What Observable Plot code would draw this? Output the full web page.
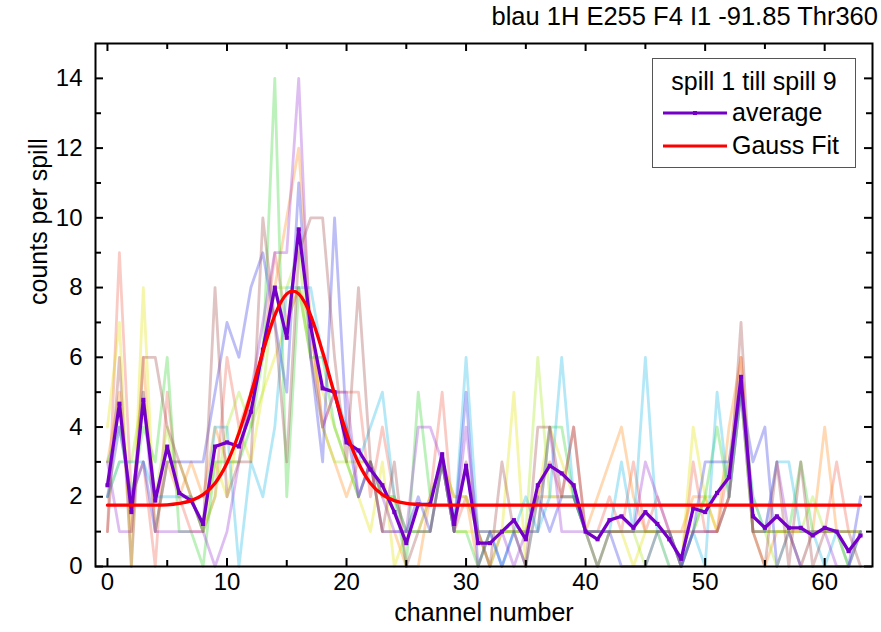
<!DOCTYPE html>
<html><head><meta charset="utf-8">
<script src="https://cdn.jsdelivr.net/npm/d3@7"></script>
<script src="https://cdn.jsdelivr.net/npm/@observablehq/plot@0.6"></script>
<style>
body{margin:0;background:#fff;}
#wrap{position:relative;width:881px;height:632px;font-family:"Liberation Sans",Arial,sans-serif;color:#000;}
#title{position:absolute;right:3px;top:1px;font-size:25.5px;line-height:30px;white-space:nowrap;}
#legend{position:absolute;left:652px;top:58px;width:204px;height:110px;border:1px solid #555;background:#fff;box-sizing:border-box;font-size:25px;line-height:30px;}
#legend div{position:absolute;white-space:nowrap;}
#legend svg{position:absolute;}
</style></head><body>
<div id="wrap"><div id="chart"></div>
<div id="title"></div>
<div id="legend"></div>
</div>
<script>
const titleText = "blau 1H E255 F4 I1 -91.85 Thr360";
const legendTitle = "spill 1 till spill 9";
const legendLabels = ["average", "Gauss Fit"];
const xLabel = "channel number";
const yLabel = "counts per spill";
const xTicks = [0, 10, 20, 30, 40, 50, 60];
const xMinorTicks = [5, 15, 25, 35, 45, 55];
const yTicks = [0, 2, 4, 6, 8, 10, 12, 14];
const yMinorTicks = [1, 3, 5, 7, 9, 11, 13];
const channels = d3.range(64);

const spillNames = ["spill 1","spill 2","spill 3","spill 4","spill 5","spill 6","spill 7","spill 8","spill 9"];
const spillColors = ["#f06050","#ff8c1a","#e0e000","#a8e61a","#33d633","#1ab8e6","#3a3ae6","#9a3ad6","#a04848"];

const spill1 = [1,9,2,3,0,5,2,1,1,2, 6,4,5,6,9,7,8,7,4,5, 5,5,2,4,2,1,1,2,5,1, 2,1,0,1,1,1,2,3,2,4, 1,1,2,1,3,1,2,1,0,3, 1,1,3,6,1,1,1,1,1,1, 1,3,1,1];
const spill2 = [3,5,1,6,1,3,2,3,2,4, 3,3,5,6,8,10,12,7,4,3, 2,3,3,1,1,0,0,2,3,2, 2,0,1,1,1,1,2,2,2,2, 1,2,3,4,2,1,1,1,1,2, 2,1,4,6,1,0,1,1,1,1, 4,1,1,1];
const spill3 = [4,7,0,8,1,3,3,2,1,3, 2,4,3,5,6,7,8,6,5,4, 3,2,1,3,0,1,1,1,3,1, 1,1,1,1,5,0,2,4,3,2, 1,0,1,1,0,1,1,0,0,4, 2,1,2,5,1,1,1,1,0,1, 1,1,0,0];
const spill4 = [2,3,3,5,2,4,2,2,1,2, 4,5,4,5,8,8,9,6,4,3, 3,3,3,2,2,1,1,2,3,2, 2,1,0,1,1,1,6,2,2,2, 1,1,1,1,1,0,1,1,0,1, 2,2,3,5,2,1,0,1,1,2, 1,1,0,1];
const spill5 = [3,4,2,4,3,6,1,1,0,3, 3,3,4,6,14,2,8,6,6,4, 3,2,3,2,2,0,5,2,3,1, 1,0,1,1,1,1,1,4,4,2, 1,0,1,1,1,1,1,1,0,1, 2,4,2,5,1,1,1,1,3,1, 1,1,1,1];
const spill6 = [2,3,3,3,2,2,2,2,1,4, 4,0,3,2,4,8,8,8,6,5, 4,3,4,5,2,1,1,1,3,1, 6,1,1,0,1,2,1,2,6,2, 1,1,1,3,1,6,1,0,0,1, 0,5,2,5,2,1,3,3,1,1, 0,1,0,1];
const spill7 = [2,4,2,3,1,3,3,3,3,5, 7,6,8,9,7,5,11,6,3,10, 4,2,3,1,1,1,2,1,3,1, 5,0,1,0,1,0,2,1,2,2, 1,1,1,0,0,0,1,1,0,1, 3,3,3,5,3,4,0,1,0,0, 0,0,0,2];
const spill8 = [3,1,1,5,1,1,1,1,1,0, 1,3,5,7,9,9,14,6,4,5, 5,2,3,2,1,1,4,4,3,1, 4,1,1,1,0,1,1,4,1,1, 1,0,1,1,1,3,2,1,0,1, 1,1,2,5,1,1,3,1,0,1, 1,0,0,1];
const spill9 = [1,6,0,6,6,4,3,2,1,8, 2,3,3,10,7,3,9,10,10,6, 3,8,3,1,3,0,1,1,3,1, 3,1,0,3,1,0,4,4,2,4, 1,1,1,1,1,1,1,1,1,1, 1,1,2,7,1,0,3,0,3,0, 1,1,1,0];

const average = [2.33,4.67,1.56,4.78,1.89,3.44,2.11,1.89,1.22,3.44, 3.56,3.44,4.44,6.22,8.00,6.56,9.67,6.89,5.11,5.00, 3.56,3.33,2.78,2.33,1.56,0.67,1.78,1.78,3.22,1.22, 2.89,0.67,0.67,1.00,1.33,0.78,2.33,2.89,2.67,2.33, 1.00,0.78,1.33,1.44,1.11,1.56,1.22,0.78,0.22,1.67, 1.56,2.11,2.56,5.44,1.44,1.11,1.44,1.11,1.11,0.89, 1.11,1.00,0.44,0.89];

const gaussX = [0, 4, 5, 6, 7, 8, 9, 10, 11, 12, 13, 14, 14.5, 15, 15.5, 16, 16.5, 17, 18, 19, 20, 21, 22, 23, 24, 25, 26, 27, 63];
const gaussY = [1.76, 1.76, 1.77, 1.81, 1.89, 2.06, 2.39, 2.97, 3.83, 4.94, 6.15, 7.20, 7.58, 7.82, 7.90, 7.82, 7.58, 7.20, 6.15, 4.94, 3.83, 2.97, 2.39, 2.06, 1.89, 1.81, 1.78, 1.76, 1.76];

const avgColor = "#7400c8";
const fitColor = "#ff0000";

const spills = [spill1, spill2, spill3, spill4, spill5, spill6, spill7, spill8, spill9];
const spillRows = spills.flatMap((arr, i) => arr.map((v, c) => ({spill: spillNames[i], channel: channels[c], count: v})));
const avgRows = average.map((v, c) => ({channel: channels[c], count: v}));
const fitRows = gaussX.map((x, i) => ({channel: x, count: gaussY[i]}));

const W = 881, H = 632, mT = 43, mB = 66, mL = 95, mR = 9;
const fw = W - mL - mR, fh = H - mT - mB;
const majorLen = 8, minorLen = 6;

const font = "Liberation Sans, Arial, sans-serif";
const chart = Plot.plot({
  width: W, height: H,
  marginTop: mT, marginBottom: mB, marginLeft: mL, marginRight: mR,
  style: {fontFamily: font, fontSize: "25px", color: "#000", background: "#fff", overflow: "visible"},
  x: {domain: [-1, 64]},
  y: {domain: [0, 15]},
  color: {domain: spillNames, range: spillColors},
  marks: [
    Plot.line(spillRows, {x: "channel", y: "count", z: "spill", stroke: "spill", strokeWidth: 2.8, strokeOpacity: 0.33}),
    Plot.line(avgRows, {x: "channel", y: "count", stroke: avgColor, strokeWidth: 3.3}),
    Plot.dot(avgRows, {x: "channel", y: "count", symbol: "square", r: 2.3, fill: avgColor}),
    Plot.line(fitRows, {x: "channel", y: "count", stroke: fitColor, strokeWidth: 3.3, curve: "monotone-x"}),
    // inward ticks on all four sides
    Plot.ruleX(xTicks, {x: d => d, insetTop: fh - majorLen, stroke: "#000", strokeWidth: 2}),
    Plot.ruleX(xMinorTicks, {x: d => d, insetTop: fh - minorLen, stroke: "#000", strokeWidth: 2}),
    Plot.ruleX(xTicks, {x: d => d, insetBottom: fh - majorLen, stroke: "#000", strokeWidth: 2}),
    Plot.ruleX(xMinorTicks, {x: d => d, insetBottom: fh - minorLen, stroke: "#000", strokeWidth: 2}),
    Plot.ruleY(yTicks, {y: d => d, insetRight: fw - majorLen, stroke: "#000", strokeWidth: 2}),
    Plot.ruleY(yMinorTicks, {y: d => d, insetRight: fw - minorLen, stroke: "#000", strokeWidth: 2}),
    Plot.ruleY(yTicks, {y: d => d, insetLeft: fw - majorLen, stroke: "#000", strokeWidth: 2}),
    Plot.ruleY(yMinorTicks, {y: d => d, insetLeft: fw - minorLen, stroke: "#000", strokeWidth: 2}),
    Plot.frame({stroke: "#000", strokeWidth: 2}),
    Plot.axisX(xTicks, {anchor: "bottom", tickSize: 0, tickPadding: 6, fontSize: 24, label: null}),
    Plot.axisY(yTicks, {anchor: "left", tickSize: 0, tickPadding: 13, fontSize: 24, label: null}),
    Plot.text([xLabel], {text: d => d, frameAnchor: "bottom", dy: 46, lineAnchor: "middle", fontSize: 25}),
    Plot.text([yLabel], {text: d => d, frameAnchor: "left", dx: -57, rotate: -90, lineAnchor: "middle", fontSize: 25})
  ]
});
document.getElementById("chart").appendChild(chart);

document.getElementById("title").textContent = titleText;
const lg = document.getElementById("legend");
lg.innerHTML = `
<div style="left:0;right:0;top:7px;text-align:center;">${legendTitle}</div>
<svg style="left:9px;top:47px" width="66" height="14"><line x1="1" x2="65" y1="7" y2="7" stroke="${avgColor}" stroke-width="3"/><rect x="31" y="5" width="4" height="4" fill="${avgColor}"/></svg>
<div style="left:79px;top:38px;">${legendLabels[0]}</div>
<svg style="left:9px;top:80px" width="66" height="14"><line x1="1" x2="65" y1="7" y2="7" stroke="${fitColor}" stroke-width="3"/></svg>
<div style="left:79px;top:71px;">${legendLabels[1]}</div>`;
</script>
</body></html>
